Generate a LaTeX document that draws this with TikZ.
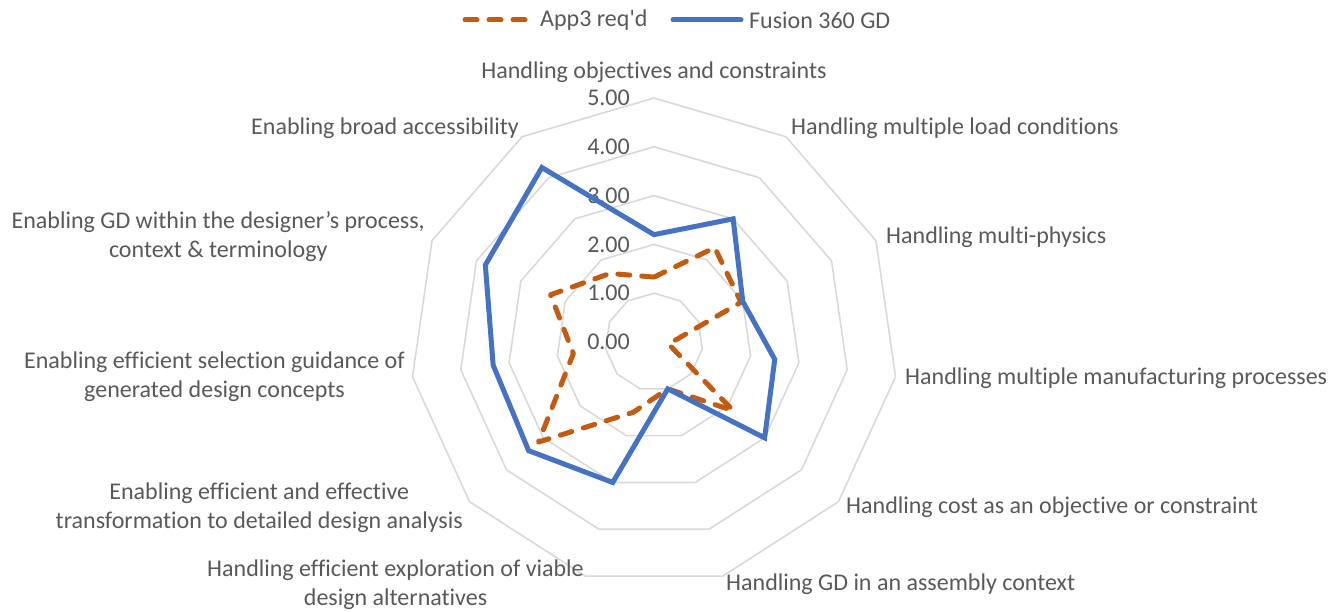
\documentclass[tikz,border=0pt]{standalone}
\usepackage{fontspec}
\setmainfont{Carlito}[Ligatures=NoCommon]

\definecolor{txtgray}{HTML}{595959}
\definecolor{gridgray}{HTML}{D9D9D9}
\definecolor{appcol}{HTML}{C55A11}
\definecolor{fuscol}{HTML}{4472C4}

\tikzset{
  gridline/.style={gridgray, line width=1.6pt},
  appline/.style={appcol, line width=5pt, line cap=round, line join=round, dash pattern=on 12pt off 12pt},
  fusline/.style={fuscol, line width=5pt, line join=miter},
  lbl/.style={text=txtgray, inner sep=0pt, align=center, font=\fontsize{24}{29}\selectfont},
}

\begin{document}
\begin{tikzpicture}[x=1pt,y=1pt]
\useasboundingbox (0,0) rectangle (1342,611);

\begin{scope}[shift={(654,269)}]
\def\R{48.8}

% сетка
\foreach \lv in {1,...,5}
  \draw[gridline] ({90}:{\lv*\R}) \foreach \k in {1,...,10}{ -- ({90-\k*360/11}:{\lv*\R}) } -- cycle;

% подписи шкалы
\foreach \lv in {0,...,5}
  \node[lbl, anchor=east] (tick\lv) at (-24,{\lv*\R}) {\lv.00};

% подписи осей
\node[lbl] (lab0) at (0,270) {Handling objectives and constraints};
\node[lbl, anchor=west] (lab1) at (137,214) {Handling multiple load conditions};
\node[lbl, anchor=west] (lab2) at (232,105) {Handling multi-physics};
\node[lbl, anchor=west] (lab3) at (251,-36) {Handling multiple manufacturing processes};
\node[lbl, anchor=west] (lab4) at (192,-165) {Handling cost as an objective or constraint};
\node[lbl, anchor=west] (lab5) at (72,-242) {Handling GD in an assembly context};
\node[lbl, anchor=east] (lab6) at (-70,-242.5) {Handling efficient exploration of viable\\design alternatives};
\node[lbl, anchor=east] (lab7) at (-191,-165.5) {Enabling efficient and effective\\transformation to detailed design analysis};
\node[lbl, anchor=east] (lab8) at (-249,-34.5) {Enabling efficient selection guidance of\\generated design concepts};
\node[lbl, anchor=east] (lab9) at (-229,105.5) {Enabling GD within the designer’s process,\\context \& terminology};
\node[lbl, anchor=east] (lab10) at (-135,214) {Enabling broad accessibility};

% данные
\foreach \v [count=\k from 0] in {1.33,2.3,1.96,0.3,2.15,1.0,1.5,3.13,1.67,2.33,1.67}
  \coordinate (a\k) at ({90-\k*360/11}:{\v*\R});
\foreach \v [count=\k from 0] in {2.2,3.0,2.0,2.5,3.0,1.0,3.0,3.4,3.33,3.8,4.25}
  \coordinate (f\k) at ({90-\k*360/11}:{\v*\R});

\draw[appline] (a0) \foreach \k in {1,...,10}{ -- (a\k) } -- cycle;
\draw[fusline] (f0) \foreach \k in {1,...,10}{ -- (f\k) } -- cycle;

% легенда
\coordinate (appA) at (-189,322);
\coordinate (appB) at (-129,322);
\node[lbl, anchor=west] (appkey) at (-114,322) {App3 req\textquotesingle d};
\coordinate (fusA) at (19,322);
\coordinate (fusB) at (87,322);
\node[lbl, anchor=west] (fuskey) at (95,322) {Fusion 360 GD};
\draw[appline] (appA) -- (appB);
\draw[fusline, line cap=round] (fusA) -- (fusB);
\end{scope}

\end{tikzpicture}
\end{document}
